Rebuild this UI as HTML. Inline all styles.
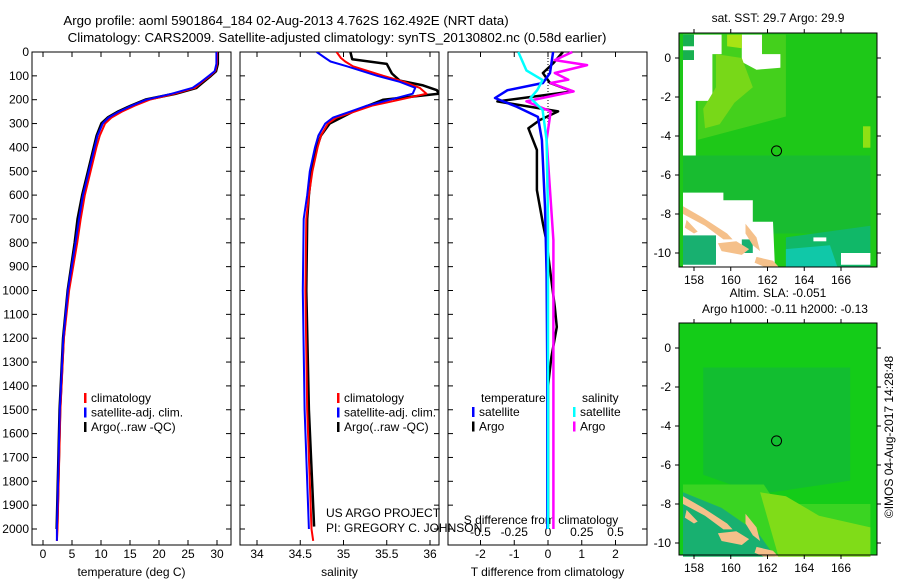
<!DOCTYPE html>
<html><head><meta charset="utf-8">
<style>
html,body{margin:0;padding:0;background:#fff;}
svg{display:block;font-family:"Liberation Sans",sans-serif;}
text{fill:#000;}
</style></head>
<body>
<svg id="fig" width="900" height="580" viewBox="0 0 900 580" xmlns="http://www.w3.org/2000/svg">
<g id="titles" font-size="13.3" text-anchor="middle">
<text x="286" y="25">Argo profile: aoml 5901864_184 02-Aug-2013 4.762S 162.492E (NRT data)</text>
<text x="337" y="42">Climatology: CARS2009. Satellite-adjusted climatology: synTS_20130802.nc (0.58d earlier)</text>
</g>
<g id="p1"></g>
<g id="p2"></g>
<g id="p3"></g>
<g id="m1"></g>
<g id="m2"></g>
<text x="898" y="442" font-size="12" text-anchor="middle" transform="rotate(-90 893 442)">©IMOS 04-Aug-2017 14:28:48</text>
</svg>
<script>
// ---- data ----
const tDepth = [0,50,80,100,130,150,175,200,225,250,275,300,350,400,500,600,700,800,1000,1200,1500,2000,2050];
const tClim  = [30.0,30.0,29.7,28.8,27.2,26.2,22.7,18.4,15.8,13.6,11.8,10.7,9.8,9.2,8.2,7.2,6.5,5.9,4.5,3.6,3.0,2.5,2.4];
const tSat   = [29.9,29.9,29.6,28.6,27.0,25.8,22.2,17.8,15.3,13.1,11.3,10.3,9.4,8.9,7.9,6.9,6.2,5.6,4.3,3.5,2.9,2.4,2.4];
const tArgo  = [30.1,30.1,29.8,28.9,27.4,26.4,22.8,17.7,15.2,13.0,11.2,10.1,9.3,8.8,7.8,6.8,6.0,5.5,4.3,3.5,2.9,2.4];
const sDepth = [0,25,40,60,100,125,150,175,200,225,250,275,300,350,400,500,600,700,1000,1500,2000,2050];
const sClim  = [34.92,34.97,35.02,35.11,35.46,35.70,35.88,35.96,35.65,35.33,35.13,34.92,34.82,34.74,34.70,34.64,34.60,34.57,34.56,34.58,34.63,34.65];
const sSat   = [34.69,34.79,34.85,35.04,35.39,35.65,35.83,35.80,35.54,35.27,35.08,34.88,34.79,34.71,34.67,34.61,34.58,34.54,34.53,34.55,34.60];
const sArgoD = [0,30,50,90,120,140,160,175,200,250,300,350,400,500,600,700,1000,1500,1990];
const sArgo  = [35.08,35.10,35.50,35.56,35.65,35.92,36.08,36.10,35.46,35.11,34.84,34.74,34.69,34.63,34.60,34.58,34.57,34.60,34.66];
const dSatD  = [0,88,130,160,193,230,272,369,649,929,1347,2000];
const dTSat  = [0.15,0.06,-0.15,-1.2,-1.57,-0.92,-0.3,-0.18,-0.09,-0.04,-0.02,-0.02];
const dSSatD = [0,77,118,160,193,243,369,700,1000,2000];
const dSSat  = [-0.22,-0.16,-0.04,-0.08,-0.13,-0.04,-0.01,0.0,0.0,0.0];
const dArgoD = [0,48,88,130,165,207,249,285,320,411,509,579,719,789,1069,1153,1279,1400,1990];
const dTArgo = [0.44,0.15,-0.15,0.06,0.74,-1.5,0.3,-0.24,-0.58,-0.33,-0.33,-0.33,-0.15,-0.05,0.2,0.26,0.1,0.0,0.0];
const dSArgoD= [0,34,55,88,116,130,165,207,249,369,789,2000];
const dSArgo = [0.18,0.05,0.29,0.05,0.15,0.02,0.19,-0.16,0.02,-0.01,0.04,0.04];
const depthTicks = [0,100,200,300,400,500,600,700,800,900,1000,1100,1200,1300,1400,1500,1600,1700,1800,1900,2000];
const tTicks = [0,5,10,15,20,25,30];
const sTicks = [34,34.5,35,35.5,36];
const dTTicks = [-2,-1,0,1,2];
const dSTicks = [-0.5,-0.25,0,0.25,0.5];
const lonTicks = [158,160,162,164,166];
const latTicks = [0,-2,-4,-6,-8,-10];

const NS="http://www.w3.org/2000/svg";
function mk(tag,attrs,parent,txt){const e=document.createElementNS(NS,tag);for(const k in attrs)e.setAttribute(k,attrs[k]);if(txt!==undefined)e.textContent=txt;parent.appendChild(e);return e;}
const top0=52, bot=545;
const yD = d => top0 + d*0.2385;

function panel(g,x0,x1,xs,ticks,fmt,label,ySide){
  const r=mk('rect',{x:x0,y:top0,width:x1-x0,height:bot-top0,fill:'none',stroke:'#000','stroke-width':1},g);
  
  
  depthTicks.forEach(d=>{
    const y=yD(d);
    mk('line',{x1:x0,x2:x0+5,y1:y,y2:y,stroke:'#000'},g);
    mk('line',{x1:x1-5,x2:x1,y1:y,y2:y,stroke:'#000'},g);
    if(ySide){const t=mk('text',{x:x0-3,y:y+4,'font-size':12,'text-anchor':'end'},g,d);
      
      }
  });
  ticks.forEach(v=>{
    const x=xs(v);
    mk('line',{x1:x,x2:x,y1:top0,y2:top0+5,stroke:'#000'},g);
    mk('line',{x1:x,x2:x,y1:bot-5,y2:bot,stroke:'#000'},g);
    const t=mk('text',{x:x,y:558,'font-size':12,'text-anchor':'middle'},g,fmt(v));
    
    
  });
  const l=mk('text',{x:(x0+x1)/2,y:576,'font-size':12,'text-anchor':'middle'},g,label);
  
  
}
function line(g,xs,vals,depths,color,name,w){
  const pts=vals.map((v,i)=>xs(v).toFixed(1)+','+yD(depths[i]).toFixed(1)).join(' ');
  const p=mk('polyline',{points:pts,fill:'none',stroke:color,'stroke-width':w||2,'stroke-linejoin':'round'},g);
  
  
}
function legend(g,x,y,items){
  items.forEach((it,i)=>{
    mk('rect',{x:x,y:y+i*14.5-9,width:2.5,height:10,fill:it[0]},g);
    const t=mk('text',{x:x+7,y:y+i*14.5,'font-size':12},g,it[1]);
    
    
  });
}
const defs=mk('defs',{},document.getElementById('fig'));
// panel 1
const p1=document.getElementById('p1');
const xT=v=>43+v*5.8;
panel(p1,32,231,xT,tTicks,v=>v,'temperature (deg C)',true);
const cp1=mk('clipPath',{id:'c1'},defs);mk('rect',{x:32,y:top0,width:199,height:bot-top0},cp1);
const c1=mk('g',{'clip-path':'url(#c1)'},p1);
line(c1,xT,tArgo,tDepth,'#000','argo-temperature-line',3);
line(c1,xT,tClim,tDepth,'#f00','climatology-temperature-line',2);
line(c1,xT,tSat,tDepth,'#00f','satellite-temperature-line',2);
legend(p1,84,402,[['#f00','climatology'],['#00f','satellite-adj. clim.'],['#000','Argo(..raw -QC)']]);
// panel 2
const p2=document.getElementById('p2');
const xS=v=>257+(v-34)*86.5;
panel(p2,240,439,xS,sTicks,v=>v,'salinity',false);
const cp2=mk('clipPath',{id:'c2'},defs);mk('rect',{x:240,y:top0,width:199,height:bot-top0},cp2);
const c2=mk('g',{'clip-path':'url(#c2)'},p2);
line(c2,xS,sArgo,sArgoD,'#000','argo-salinity-line',2.5);
line(c2,xS,sClim,sDepth,'#f00','climatology-salinity-line',2);
line(c2,xS,sSat,sDepth.slice(0,sSat.length),'#00f','satellite-salinity-line',2);
legend(p2,337,402,[['#f00','climatology'],['#00f','satellite-adj. clim.'],['#000','Argo(..raw -QC)']]);
mk('text',{x:326,y:517,'font-size':12},p2,'US ARGO PROJECT');
mk('text',{x:326,y:532,'font-size':12},p2,'PI: GREGORY C. JOHNSON');
// panel 3
const p3=document.getElementById('p3');
const xDT=v=>548+v*33.75, xDS=v=>548+v*135;
panel(p3,448,647,xDT,dTTicks,v=>v,'T difference from climatology',false);
dSTicks.forEach(v=>{const t=mk('text',{x:xDS(v),y:536,'font-size':12,'text-anchor':'middle'},p3,v);
  
  });
mk('text',{x:541,y:524,'font-size':12,'text-anchor':'middle'},p3,'S difference from climatology');
mk('line',{x1:548,x2:548,y1:top0,y2:130,stroke:'#000','stroke-dasharray':'1,2'},p3);
line(p3,xDT,dTArgo,dArgoD,'#000','argo-t-diff-line',2.5);
line(p3,xDS,dSArgo,dSArgoD,'#f0f','argo-s-diff-line',2.5);
line(p3,xDT,dTSat,dSatD,'#00f','satellite-t-diff-line',2.5);
line(p3,xDS,dSSat,dSSatD,'#0ff','satellite-s-diff-line',2.5);
mk('text',{x:481,y:402,'font-size':12},p3,'temperature');
mk('text',{x:582,y:402,'font-size':12},p3,'salinity');
legend(p3,472,416,[['#00f','satellite'],['#000','Argo']]);
legend(p3,573,416,[['#0ff','satellite'],['#f0f','Argo']]);

// ---- maps ----
const lonX=v=>694+(v-158)*18.375;
function mapFrame(g,top,bottom,lat0y,title1,title2,t1y,t2y,bg,patches){
  const latY=v=>lat0y-v*19.5;
  mk('rect',{x:679,y:top,width:198,height:bottom-top,fill:bg},g);
  patches.forEach(p=>{const e=mk('polygon',{points:p[1].map(q=>lonX(q[0]).toFixed(1)+','+latY(q[1]).toFixed(1)).join(' '),fill:p[0]},g);
    
    });
  const c=mk('circle',{cx:lonX(162.492),cy:latY(-4.762),r:5,fill:'none',stroke:'#000'},g);
  
  
  mk('rect',{x:679,y:top,width:198,height:bottom-top,fill:'none',stroke:'#000'},g);
  lonTicks.forEach(v=>{const x=lonX(v);
    mk('line',{x1:x,x2:x,y1:top,y2:top-4,stroke:'#000'},g);
    mk('line',{x1:x,x2:x,y1:bottom,y2:bottom+4,stroke:'#000'},g);
    const t=mk('text',{x:x,y:bottom+17,'font-size':12,'text-anchor':'middle'},g,v);
    
    });
  latTicks.forEach(v=>{const y=latY(v);
    mk('line',{x1:679,x2:675,y1:y,y2:y,stroke:'#000'},g);
    mk('line',{x1:877,x2:881,y1:y,y2:y,stroke:'#000'},g);
    const t=mk('text',{x:671,y:y+4,'font-size':12,'text-anchor':'end'},g,v);
    
    });
  mk('text',{x:778,y:t1y,'font-size':12,'text-anchor':'middle'},g,title1);
  if(title2) mk('text',{x:785,y:t2y,'font-size':12,'text-anchor':'middle'},g,title2);
}
const islands=[
 ['#f5c08a',[[157.4,-7.6],[158.5,-8.2],[159.8,-9.0],[160.1,-9.3],[159.6,-9.3],[158.6,-8.6],[157.4,-8.0]],'island'],
 ['#f5c08a',[[157.6,-8.3],[158.2,-8.9],[158.0,-9.0],[157.5,-8.7]],'island'],
 ['#f5c08a',[[160.8,-8.5],[161.4,-9.2],[161.6,-9.9],[161.2,-9.6],[160.8,-9.0]],'island'],
 ['#f5c08a',[[159.3,-9.5],[160.3,-9.4],[161.0,-9.8],[160.6,-10.1],[159.5,-9.9]],'island'],
 ['#f5c08a',[[161.4,-10.2],[162.3,-10.4],[162.6,-10.7],[161.8,-10.7],[161.3,-10.5]],'island']
];
const m1=document.getElementById('m1');
mapFrame(m1,33,267,58,'sat. SST: 29.7 Argo: 29.9',null,22,0,'#1ec818',[
 ['#44d01c',[[158.2,1.2],[163.0,1.2],[163.0,-3.0],[158.2,-4.2]],'warm-area'],
 ['#fff',[[157.4,1.2],[159.5,1.2],[159.5,0.2],[159.0,0.2],[159.0,-2.2],[158.1,-2.2],[158.1,-5.0],[157.4,-5.0]],'missing-data'],
 ['#18b050',[[157.4,1.2],[158.0,1.2],[158.0,0.6],[157.4,0.6]],'cell'],
 ['#18b050',[[157.4,0.4],[158.0,0.4],[158.0,-0.1],[157.4,-0.1]],'cell'],
 ['#fff',[[160.6,1.2],[161.7,1.2],[161.7,0.2],[162.7,0.2],[162.7,-0.5],[161.4,-0.6],[160.6,-0.2]],'missing-data'],
 ['#78d818',[[159.2,0.2],[160.6,0.0],[161.2,-1.5],[160.2,-2.3],[159.4,-3.4],[158.6,-3.6],[158.5,-2.6],[159.2,-1.5]],'warm-patch'],
 ['#a8e414',[[159.8,1.2],[160.6,1.2],[160.6,0.5],[159.8,0.6]],'warm-patch'],
 ['#fff',[[159.3,-5.2],[160.3,-5.2],[160.3,-5.7],[159.3,-5.7]],'missing-data'],
 ['#18bc30',[[157.4,-5.0],[167.6,-5.0],[167.6,-9.0],[157.4,-9.0]],'cool-area'],
 ['#fff',[[157.4,-6.9],[159.6,-6.9],[159.6,-7.3],[161.2,-7.3],[161.2,-8.4],[162.3,-8.4],[162.4,-10.7],[157.4,-10.7]],'missing-data'],
 ['#18b070',[[157.4,-9.1],[159.2,-9.1],[159.2,-10.6],[157.4,-10.6]],'teal-patch'],
 ['#18b070',[[160.6,-9.3],[161.2,-9.3],[161.2,-10.0],[160.6,-10.0]],'teal-patch'],
 ['#10b868',[[163.0,-9.2],[167.6,-8.6],[167.6,-10.7],[163.0,-10.7]],'teal-patch'],
 ['#10c8a8',[[163.0,-9.8],[165.4,-9.6],[165.8,-10.7],[163.0,-10.7]],'teal-patch'],
 ['#fff',[[166.0,-10.0],[167.6,-10.0],[167.6,-10.6],[166.0,-10.6]],'missing-data'],
 ['#fff',[[164.5,-9.2],[165.2,-9.2],[165.2,-9.4],[164.5,-9.4]],'missing-data'],
 ['#90e014',[[167.2,-3.5],[167.6,-3.5],[167.6,-4.6],[167.2,-4.6]],'warm-patch']
].concat(islands));
const m2=document.getElementById('m2');
mapFrame(m2,323,555,348,'Altim. SLA: -0.051','Argo h1000: -0.11 h2000: -0.13',297,313,'#14cc18',[
 ['#12be30',[[158.5,-1.0],[166.5,-1.0],[166.5,-6.8],[161.5,-7.5],[158.5,-6.5]],'low-sla-region'],
 ['#3ad422',[[157.4,-7.0],[161.8,-7.0],[162.5,-8.0],[167.6,-8.0],[167.6,-10.7],[157.4,-10.7]],'sla-region'],
 ['#80dc18',[[161.6,-7.4],[163.0,-7.6],[164.8,-8.6],[167.6,-9.2],[167.6,-10.7],[162.6,-10.7]],'high-sla-region'],
 ['#18b070',[[157.4,-7.4],[159.5,-8.2],[161.5,-9.5],[162.4,-10.7],[157.4,-10.7]],'teal-patch']
].concat(islands));
</script>
</body></html>
